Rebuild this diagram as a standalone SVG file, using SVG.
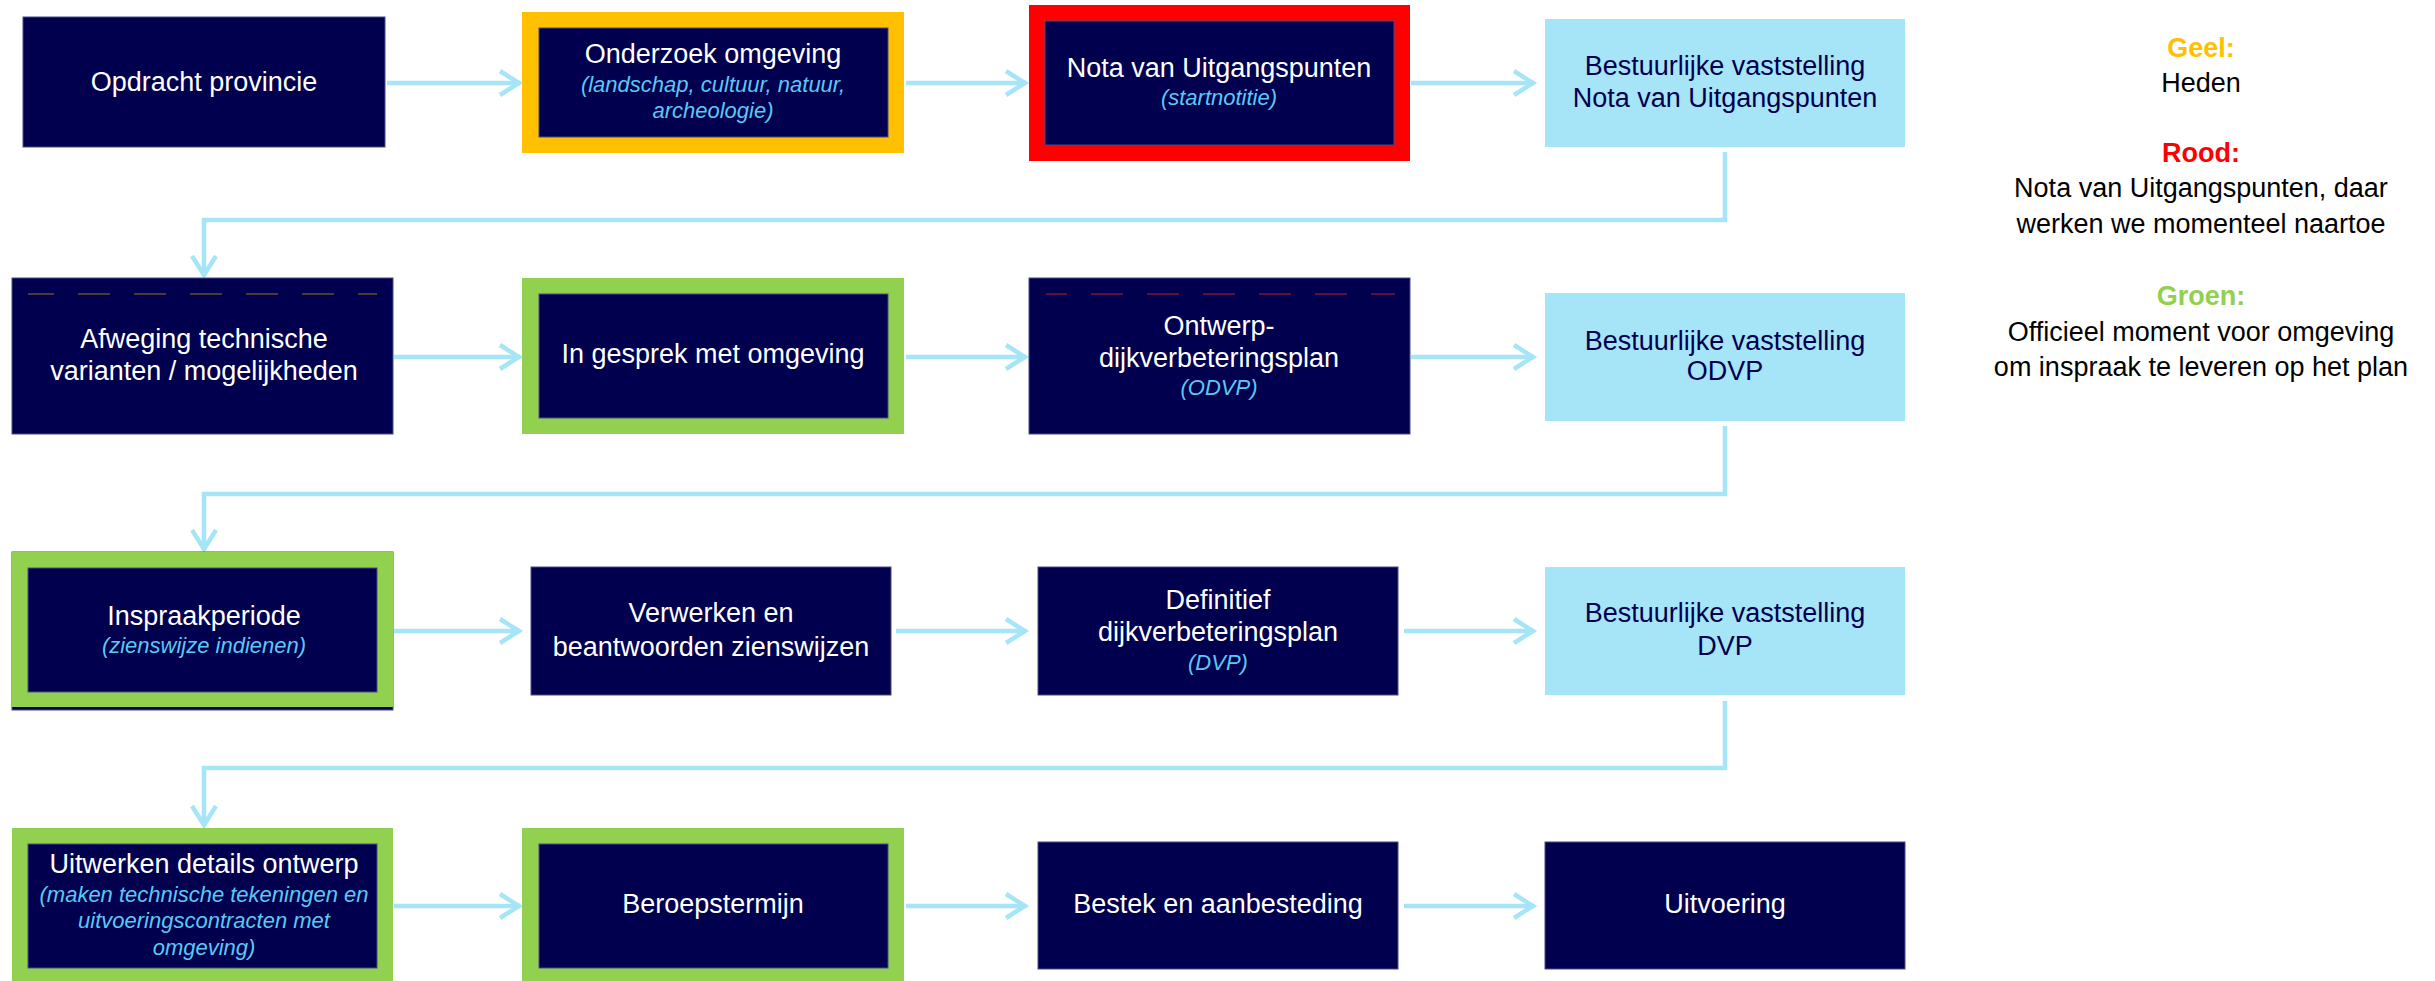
<svg xmlns="http://www.w3.org/2000/svg" width="2435" height="981" viewBox="0 0 2435 981">
<style>
.bg{fill:#ffffff}
.navy{fill:#00004E;stroke:#4a4a86;stroke-width:1}
.lb{fill:#A6E4F7}
.yel{fill:#FFC000}
.red{fill:#FF0000}
.grn{fill:#92D050}
.t{font-family:"Liberation Sans",Arial,sans-serif;font-size:27px;fill:#ffffff;text-anchor:middle}
.tn{font-family:"Liberation Sans",Arial,sans-serif;font-size:27px;fill:#00004E;text-anchor:middle}
.s{font-family:"Liberation Sans",Arial,sans-serif;font-size:22px;font-style:italic;fill:#5CC8F4;text-anchor:middle}
.lg{font-family:"Liberation Sans",Arial,sans-serif;font-size:27px;fill:#000000;text-anchor:middle}
.lh{font-family:"Liberation Sans",Arial,sans-serif;font-size:27px;font-weight:bold;text-anchor:middle}
.con{fill:none;stroke:#A6E4F7;stroke-width:4.5}
.dashA{stroke:#4a3a3a;stroke-width:2;stroke-dasharray:32 24}
.dashB{stroke:#5e0f40;stroke-width:2;stroke-dasharray:32 24}
</style>
<defs>
<marker id="arr" markerUnits="userSpaceOnUse" viewBox="-26 -15 30 30" refX="0" refY="0" markerWidth="30" markerHeight="30" orient="auto">
<path d="M-20,-12 L-1,0 L-20,12" fill="none" stroke="#A6E4F7" stroke-width="4.5"/>
</marker>
</defs>
<rect class="bg" x="0" y="0" width="2435" height="981"/>

<g id="connectors">
<line class="con" x1="387" y1="83" x2="520" y2="83" marker-end="url(#arr)"/>
<line class="con" x1="906" y1="83" x2="1026" y2="83" marker-end="url(#arr)"/>
<line class="con" x1="1411" y1="83" x2="1534" y2="83" marker-end="url(#arr)"/>
<polyline class="con" points="1725,152 1725,220 204,220 204,276" marker-end="url(#arr)"/>
<line class="con" x1="394" y1="357" x2="520" y2="357" marker-end="url(#arr)"/>
<line class="con" x1="906" y1="357" x2="1026" y2="357" marker-end="url(#arr)"/>
<line class="con" x1="1411" y1="357" x2="1534" y2="357" marker-end="url(#arr)"/>
<polyline class="con" points="1725,426 1725,494 204,494 204,550" marker-end="url(#arr)"/>
<line class="con" x1="394" y1="631" x2="520" y2="631" marker-end="url(#arr)"/>
<line class="con" x1="896" y1="631" x2="1026" y2="631" marker-end="url(#arr)"/>
<line class="con" x1="1404" y1="631" x2="1534" y2="631" marker-end="url(#arr)"/>
<polyline class="con" points="1725,701 1725,768 204,768 204,826" marker-end="url(#arr)"/>
<line class="con" x1="394" y1="906" x2="520" y2="906" marker-end="url(#arr)"/>
<line class="con" x1="906" y1="906" x2="1026" y2="906" marker-end="url(#arr)"/>
<line class="con" x1="1404" y1="906" x2="1534" y2="906" marker-end="url(#arr)"/>
</g>

<g id="opdracht-provincie">
<rect class="navy" x="23" y="17" width="362" height="130"/>
<text class="t" x="204" y="91">Opdracht provincie</text>
</g>

<g id="onderzoek-omgeving">
<rect class="yel" x="522" y="12" width="382" height="141"/>
<rect class="navy" x="539" y="28" width="349" height="109"/>
<text class="t" x="713" y="63">Onderzoek omgeving</text>
<text class="s" x="713" y="92">(landschap, cultuur, natuur,</text>
<text class="s" x="713" y="118">archeologie)</text>
</g>

<g id="nota-van-uitgangspunten">
<rect class="red" x="1029" y="5" width="381" height="156"/>
<rect class="navy" x="1045" y="21" width="349" height="124"/>
<text class="t" x="1219" y="77">Nota van Uitgangspunten</text>
<text class="s" x="1219" y="105">(startnotitie)</text>
</g>

<g id="bestuurlijke-nvu">
<rect class="lb" x="1545" y="19" width="360" height="128"/>
<text class="tn" x="1725" y="75">Bestuurlijke vaststelling</text>
<text class="tn" x="1725" y="107">Nota van Uitgangspunten</text>
</g>

<g id="afweging">
<rect class="navy" x="12" y="278" width="381" height="156"/>
<line class="dashA" x1="28" y1="294" x2="377" y2="294" stroke-dashoffset="6"/>
<text class="t" x="204" y="348">Afweging technische</text>
<text class="t" x="204" y="380">varianten / mogelijkheden</text>
</g>

<g id="in-gesprek">
<rect class="grn" x="522" y="278" width="382" height="156"/>
<rect class="navy" x="539" y="294" width="349" height="124"/>
<text class="t" x="713" y="363">In gesprek met omgeving</text>
</g>

<g id="ontwerp-dvp">
<rect class="navy" x="1029" y="278" width="381" height="156"/>
<line class="dashB" x1="1046" y1="294" x2="1395" y2="294" stroke-dashoffset="11"/>
<text class="t" x="1219" y="335">Ontwerp-</text>
<text class="t" x="1219" y="367">dijkverbeteringsplan</text>
<text class="s" x="1219" y="395">(ODVP)</text>
</g>

<g id="bestuurlijke-odvp">
<rect class="lb" x="1545" y="293" width="360" height="128"/>
<text class="tn" x="1725" y="350">Bestuurlijke vaststelling</text>
<text class="tn" x="1725" y="380">ODVP</text>
</g>

<g id="inspraakperiode">
<rect class="navy" x="12" y="552" width="381" height="158"/>
<rect class="grn" x="12" y="552" width="381" height="155"/>
<rect class="navy" x="28" y="568" width="349" height="124"/>
<text class="t" x="204" y="625">Inspraakperiode</text>
<text class="s" x="204" y="653">(zienswijze indienen)</text>
</g>

<g id="verwerken">
<rect class="navy" x="531" y="567" width="360" height="128"/>
<text class="t" x="711" y="622">Verwerken en</text>
<text class="t" x="711" y="656">beantwoorden zienswijzen</text>
</g>

<g id="definitief-dvp">
<rect class="navy" x="1038" y="567" width="360" height="128"/>
<text class="t" x="1218" y="609">Definitief</text>
<text class="t" x="1218" y="641">dijkverbeteringsplan</text>
<text class="s" x="1218" y="670">(DVP)</text>
</g>

<g id="bestuurlijke-dvp">
<rect class="lb" x="1545" y="567" width="360" height="128"/>
<text class="tn" x="1725" y="622">Bestuurlijke vaststelling</text>
<text class="tn" x="1725" y="655">DVP</text>
</g>

<g id="uitwerken">
<rect class="grn" x="12" y="828" width="381" height="153"/>
<rect class="navy" x="28" y="844" width="349" height="124"/>
<text class="t" x="204" y="873">Uitwerken details ontwerp</text>
<text class="s" x="204" y="902">(maken technische tekeningen en</text>
<text class="s" x="204" y="928">uitvoeringscontracten met</text>
<text class="s" x="204" y="955">omgeving)</text>
</g>

<g id="beroepstermijn">
<rect class="grn" x="522" y="828" width="382" height="153"/>
<rect class="navy" x="539" y="844" width="349" height="124"/>
<text class="t" x="713" y="913">Beroepstermijn</text>
</g>

<g id="bestek">
<rect class="navy" x="1038" y="842" width="360" height="127"/>
<text class="t" x="1218" y="913">Bestek en aanbesteding</text>
</g>

<g id="uitvoering">
<rect class="navy" x="1545" y="842" width="360" height="127"/>
<text class="t" x="1725" y="913">Uitvoering</text>
</g>

<g id="legend">
<text class="lh" x="2201" y="57" fill="#FFC000">Geel:</text>
<text class="lg" x="2201" y="92">Heden</text>
<text class="lh" x="2201" y="162" fill="#FF0000">Rood:</text>
<text class="lg" x="2201" y="197">Nota van Uitgangspunten, daar</text>
<text class="lg" x="2201" y="233">werken we momenteel naartoe</text>
<text class="lh" x="2201" y="305" fill="#92D050">Groen:</text>
<text class="lg" x="2201" y="341">Officieel moment voor omgeving</text>
<text class="lg" x="2201" y="376">om inspraak te leveren op het plan</text>
</g>
</svg>
